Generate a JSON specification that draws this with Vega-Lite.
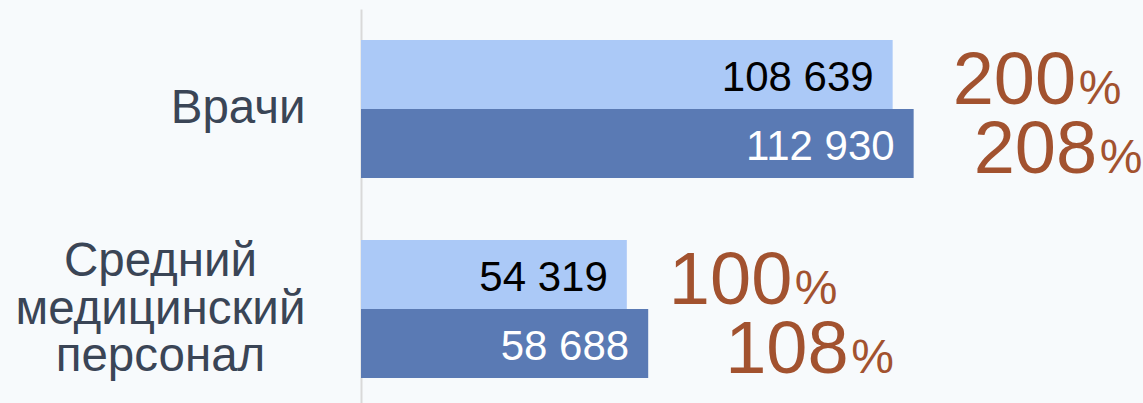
{
  "$schema": "https://vega.github.io/schema/vega-lite/v6.json",
  "width": 783,
  "height": 400,
  "autosize": {"type": "none"},
  "padding": {"left": 361, "top": 9, "right": 0, "bottom": 0},
  "background": "#f7fafc",
  "config": {
    "view": {"stroke": null},
    "font": "Liberation Sans",
    "locale": {"number": {"decimal": ",", "thousands": " ", "grouping": [3], "currency": ["", ""]}}
  },
  "data": {
    "values": [
      {"category": "Врачи", "series": "1", "value": 108639, "pct": 200},
      {"category": "Врачи", "series": "2", "value": 112930, "pct": 208},
      {"category": "Средний медицинский персонал", "series": "1", "value": 54319, "pct": 100},
      {"category": "Средний медицинский персонал", "series": "2", "value": 58688, "pct": 108}
    ]
  },
  "encoding": {
    "y": {
      "field": "category",
      "type": "nominal",
      "sort": null,
      "scale": {"paddingInner": 0.31, "paddingOuter": 0.155},
      "axis": {
        "title": null,
        "ticks": false,
        "grid": false,
        "domain": true,
        "domainColor": "#d9d9d9",
        "domainWidth": 2,
        "labelFont": "Liberation Sans",
        "labelFontSize": 47.5,
        "labelColor": "#3a4556",
        "labelLimit": 400,
        "labelLineHeight": 47.5,
        "labelBaseline": "middle",
        "labelExpr": "split(datum.label, ' ')",
        "labelAlign": {"condition": {"test": "datum.value == 'Врачи'", "value": "right"}, "value": "center"},
        "labelPadding": {"condition": {"test": "datum.value == 'Врачи'", "value": 56}, "value": 201},
        "labelOffset": {"condition": {"test": "datum.value == 'Врачи'", "value": 0}, "value": -47}
      }
    },
    "yOffset": {"field": "series", "type": "nominal", "scale": {"paddingInner": 0, "paddingOuter": 0}},
    "x": {"field": "value", "type": "quantitative", "scale": {"domain": [0, 160000], "nice": false}, "axis": null}
  },
  "layer": [
    {
      "mark": {"type": "bar"},
      "encoding": {
        "color": {"field": "series", "type": "nominal", "scale": {"range": ["#abc9f7", "#5a7ab4"]}, "legend": null}
      }
    },
    {
      "mark": {"type": "text", "align": "right", "baseline": "alphabetic", "dx": -19, "dy": 16, "fontSize": 42},
      "encoding": {
        "text": {"field": "value", "type": "quantitative", "format": ",d"},
        "color": {"condition": {"test": "datum.series == '1'", "value": "#000000"}, "value": "#ffffff"}
      }
    },
    {
      "mark": {
        "type": "text",
        "align": "left",
        "baseline": "alphabetic",
        "dy": 29,
        "fontSize": 74,
        "color": "#a2522f",
        "dx": {"expr": "datum.pct == 100 ? 42 : (datum.pct == 108 ? 77 : 60)"}
      },
      "encoding": {"text": {"field": "pct", "type": "quantitative"}}
    },
    {
      "mark": {
        "type": "text",
        "align": "left",
        "baseline": "alphabetic",
        "dy": 29,
        "fontSize": 48,
        "color": "#a2522f",
        "dx": {"expr": "(datum.pct == 100 ? 42 : (datum.pct == 108 ? 77 : 60)) + 126"}
      },
      "encoding": {"text": {"value": "%"}}
    }
  ]
}
